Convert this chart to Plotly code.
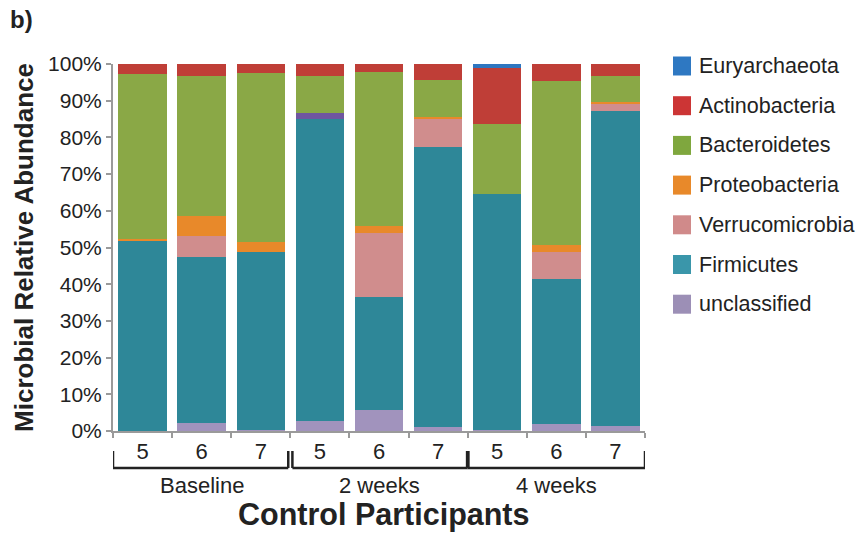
import plotly.graph_objects as go

# ---- data ----
categories = ["B5", "B6", "B7", "W2-5", "W2-6", "W2-7", "W4-5", "W4-6", "W4-7"]
participants = ["5", "6", "7", "5", "6", "7", "5", "6", "7"]
groups = ["Baseline", "2 weeks", "4 weeks"]

unclassified = [0.0, 2.3, 0.3, 2.7, 5.7, 1.1, 0.3, 2.0, 1.4]
firmicutes = [51.8, 45.2, 48.6, 82.2, 30.9, 76.3, 64.4, 39.4, 85.8]
other = [0.0, 0.0, 0.0, 1.7, 0.0, 0.0, 0.0, 0.0, 0.0]
verrucomicrobia = [0.0, 5.7, 0.0, 0.0, 17.4, 7.5, 0.0, 7.5, 1.9]
proteobacteria = [0.6, 5.5, 2.7, 0.0, 1.9, 0.7, 0.0, 1.8, 0.5]
bacteroidetes = [45.0, 38.1, 46.0, 10.1, 42.0, 10.0, 19.0, 44.7, 7.1]
actinobacteria = [2.6, 3.2, 2.4, 3.3, 2.1, 4.4, 15.3, 4.6, 3.3]
euryarchaeota = [0.0, 0.0, 0.0, 0.0, 0.0, 0.0, 1.0, 0.0, 0.0]

series = [
    ("unclassified", unclassified, "#a193bd", True),
    ("Firmicutes", firmicutes, "#2e8798", True),
    ("Other", other, "#6f56a0", False),
    ("Verrucomicrobia", verrucomicrobia, "#d08d8d", True),
    ("Proteobacteria", proteobacteria, "#e8892a", True),
    ("Bacteroidetes", bacteroidetes, "#8aa846", True),
    ("Actinobacteria", actinobacteria, "#bf3e37", True),
    ("Euryarchaeota", euryarchaeota, "#2e76c0", True),
]
legend_colors = {
    "Euryarchaeota": "#2e78c2", "Actinobacteria": "#cc3535", "Bacteroidetes": "#7fa73e",
    "Proteobacteria": "#e8892a", "Verrucomicrobia": "#d08a8a", "Firmicutes": "#3a96aa",
    "unclassified": "#9c8fb6",
}

FONT = "Arial, Liberation Sans, sans-serif"
W, H = 859, 533
ML, MR, MT, MB = 113, 214, 64, 102
PW, PH = W - ML - MR, H - MT - MB


def px_x(p):
    return (p - ML) / PW


def px_y(p):
    return (H - MB - p) / PH


fig = go.Figure()
for name, vals, color, show in series:
    fig.add_trace(go.Bar(
        x=categories, y=vals, name=name,
        marker=dict(color=color, line=dict(width=0)),
        showlegend=False,
    ))

fig.update_layout(
    width=W, height=H, autosize=False,
    margin=dict(l=ML, r=MR, t=MT, b=MB),
    barmode="stack", bargap=0.18,
    plot_bgcolor="white", paper_bgcolor="white",
    font=dict(family=FONT, color="#222222"),
    showlegend=False,
)

fig.update_yaxes(
    range=[0, 100], dtick=10, ticksuffix="%",
    showgrid=False, zeroline=False,
    showline=True, linecolor="#9a9a9a", linewidth=2,
    ticks="outside", ticklen=5, tickcolor="#9a9a9a", tickwidth=2,
    tickfont=dict(size=21, family=FONT, color="#222222"),
    title=dict(text="<b>Microbial Relative Abundance</b>",
               font=dict(size=26, family=FONT, color="#222222"), standoff=7),
)
fig.update_xaxes(
    type="category", tickmode="array", tickvals=categories, ticktext=participants,
    tickson="boundaries", ticks="outside", ticklen=5, tickcolor="#9a9a9a", tickwidth=2,
    showline=True, linecolor="#9a9a9a", linewidth=2, showgrid=False,
    tickfont=dict(size=22, family=FONT, color="#222222"),
    range=[-0.5, 8.5],
)

# group brackets
y_top, y_bot = px_y(451), px_y(468)
spans = [(-0.5, 2.465, 2.5, 2.5), (2.535, 5.5, 2.5, 3.5), (5.5, 8.5, 3.5, 2.5)]
for x0, x1, wl, wr in spans:
    fig.add_shape(type="line", xref="x", yref="paper", x0=x0, x1=x1, y0=y_bot, y1=y_bot,
                  line=dict(color="#222222", width=2.5))
    fig.add_shape(type="line", xref="x", yref="paper", x0=x0, x1=x0, y0=y_top, y1=y_bot,
                  line=dict(color="#222222", width=wl))
    fig.add_shape(type="line", xref="x", yref="paper", x0=x1, x1=x1, y0=y_top, y1=y_bot,
                  line=dict(color="#222222", width=wr))

for i, g in enumerate(groups):
    fig.add_annotation(x=categories[3 * i + 1], y=px_y(485), xref="x", yref="paper",
                       text=g, showarrow=False, yanchor="middle",
                       font=dict(size=22, family=FONT, color="#222222"))

fig.add_annotation(x=px_x(383), y=px_y(514), xref="paper", yref="paper",
                   text="<b>Control Participants</b>", showarrow=False, yanchor="middle",
                   font=dict(size=30.5, family=FONT, color="#222222"))

fig.add_annotation(x=px_x(8), y=px_y(19), xref="paper", yref="paper", xanchor="left",
                   text="<b>b)</b>", showarrow=False, yanchor="middle",
                   font=dict(size=24, family=FONT, color="#222222"))

# manual legend (top to bottom)
legend_order = ["Euryarchaeota", "Actinobacteria", "Bacteroidetes", "Proteobacteria",
                "Verrucomicrobia", "Firmicutes", "unclassified"]
for k, name in enumerate(legend_order):
    cy = 66 + 39.7 * k
    fig.add_shape(type="rect", xref="paper", yref="paper",
                  x0=px_x(673), x1=px_x(691), y0=px_y(cy - 9.5), y1=px_y(cy + 9.5),
                  fillcolor=legend_colors[name], line=dict(width=0))
    fig.add_annotation(x=px_x(697), y=px_y(cy), xref="paper", yref="paper",
                       xanchor="left", yanchor="middle", text=name, showarrow=False,
                       font=dict(size=21.5, family=FONT, color="#222222"))

fig.write_html("out.html")
